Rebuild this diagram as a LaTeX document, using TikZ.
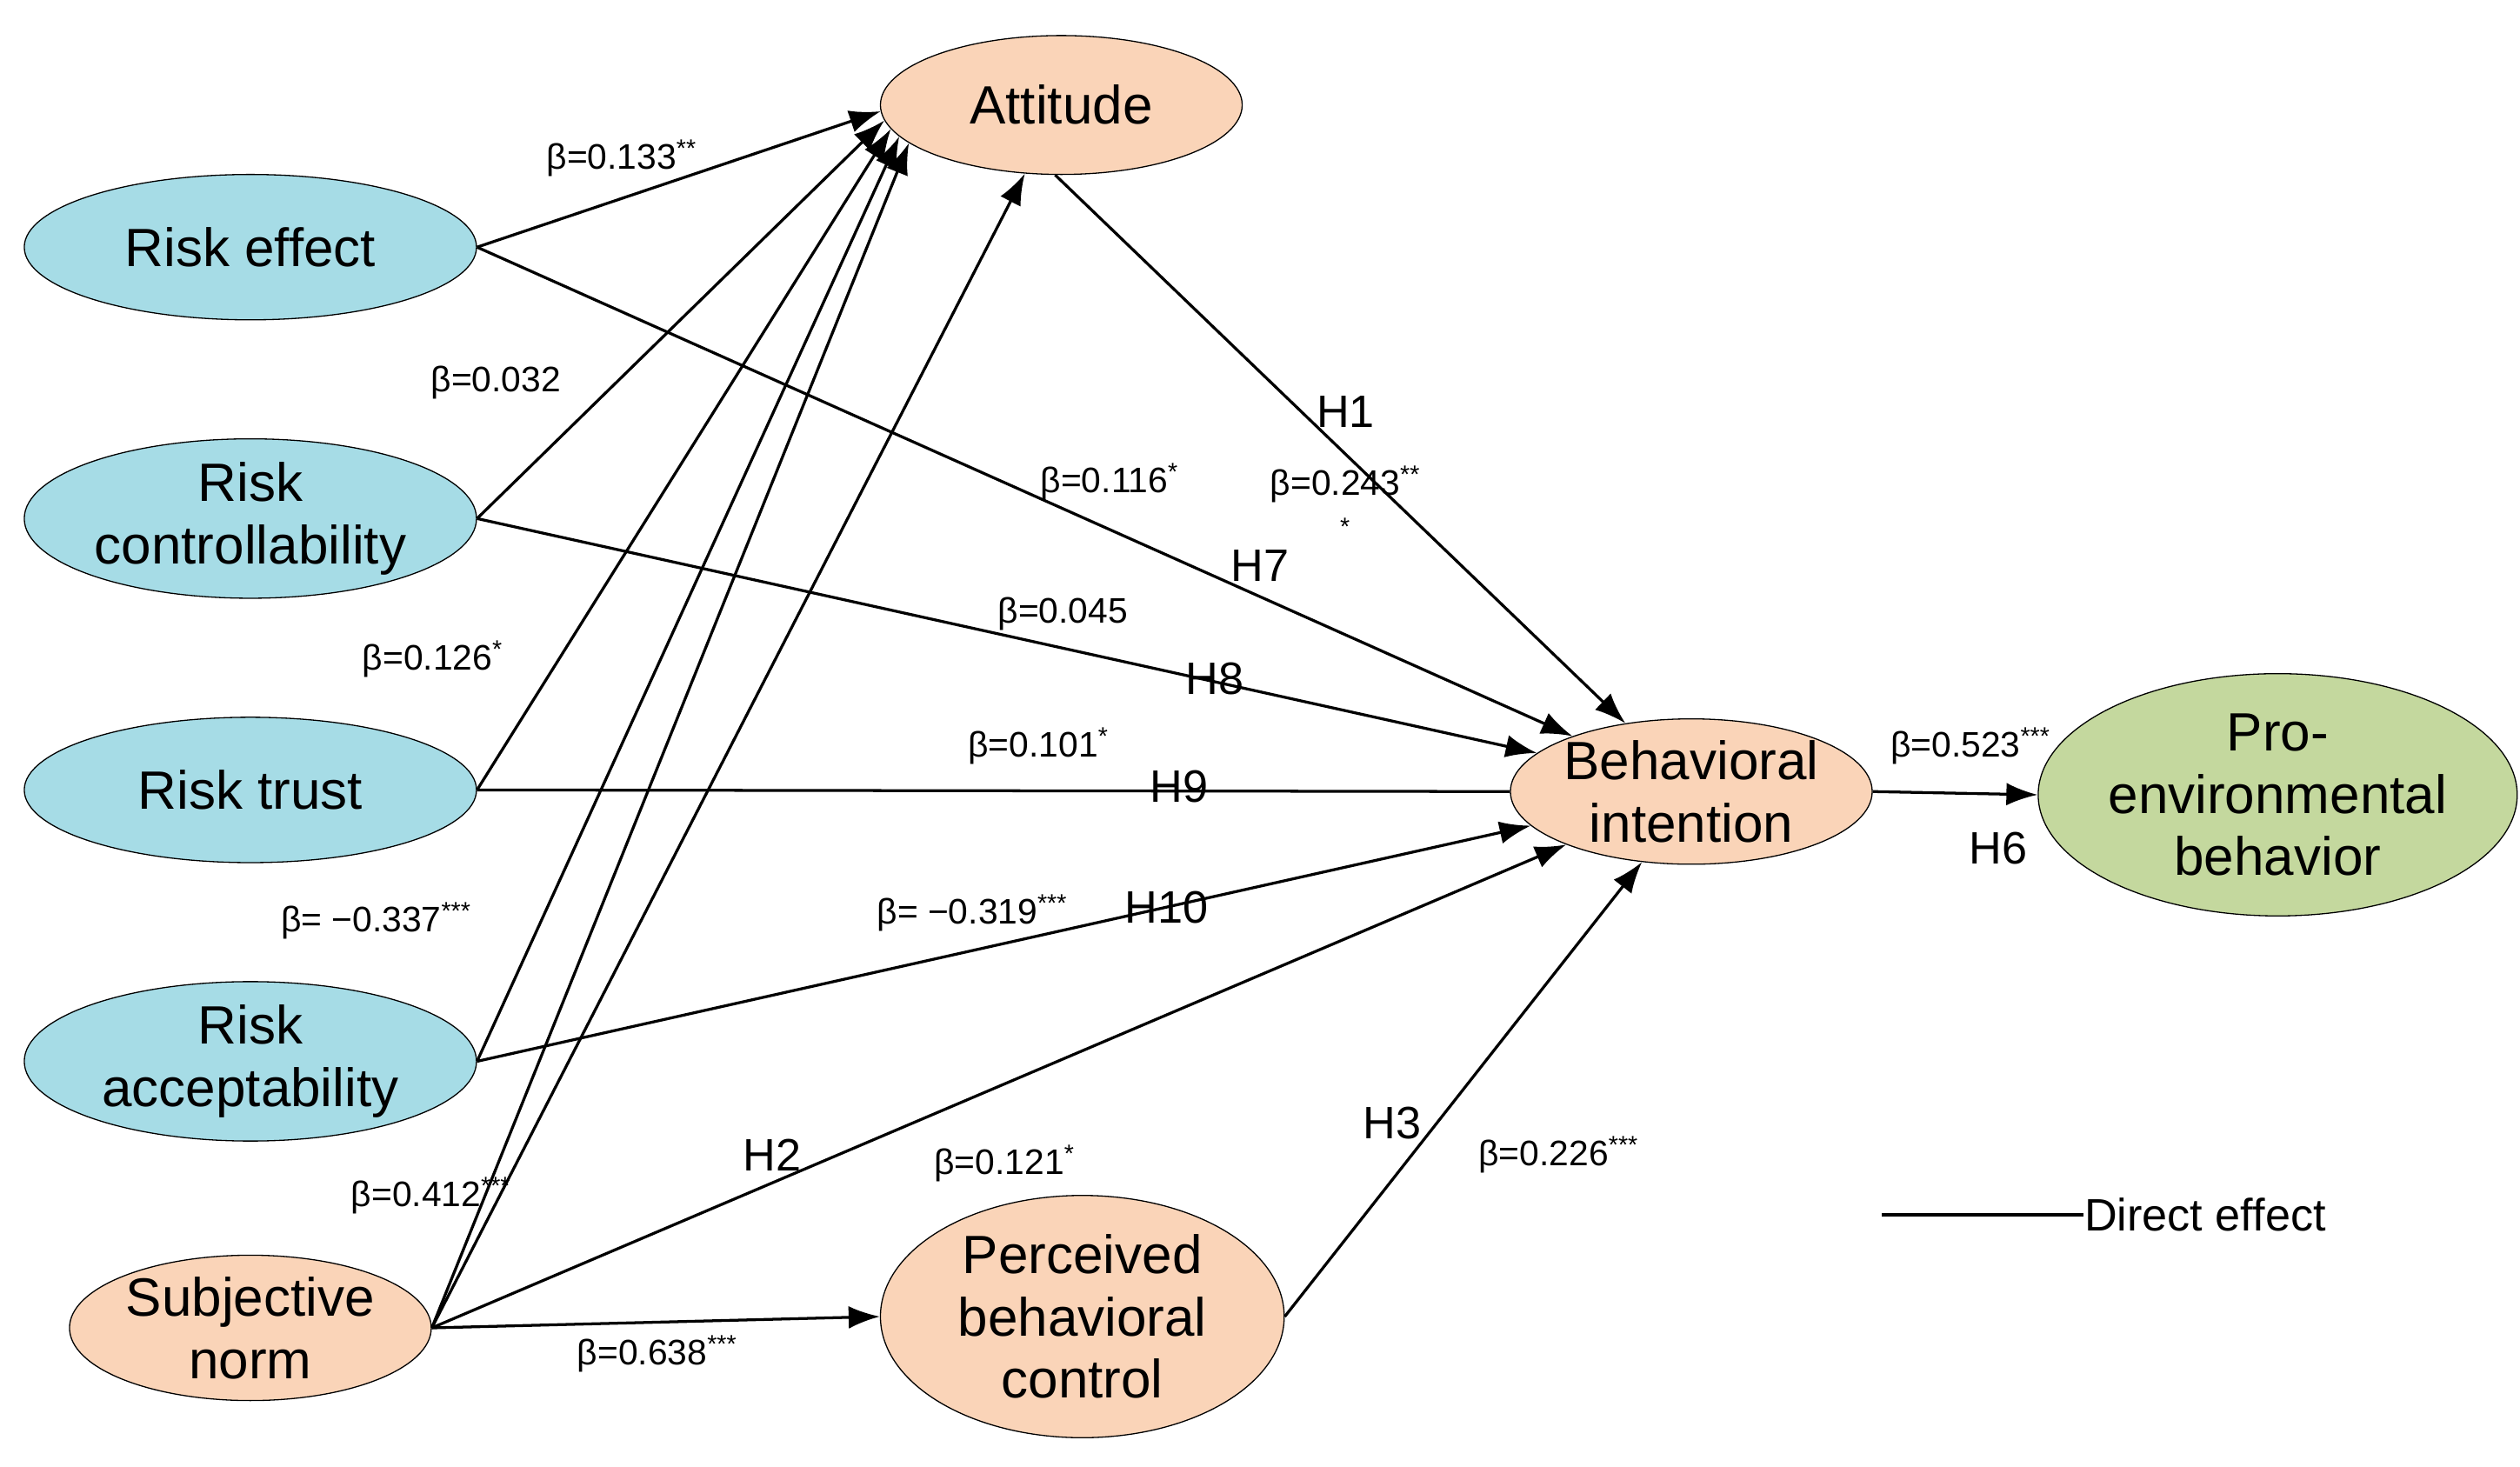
\documentclass[tikz,border=0pt]{standalone}
\usepackage{fontspec}
\setmainfont{Liberation Sans}
\usetikzlibrary{shapes.geometric,arrows.meta}
\definecolor{cblue}{RGB}{166,220,230}
\definecolor{corange}{RGB}{250,212,184}
\definecolor{cgreen}{RGB}{196,216,158}
\begin{document}
\begin{tikzpicture}[x=0.02cm,y=-0.02cm,
  el/.style={ellipse,draw,inner sep=0pt,align=center,font=\fontsize{19}{22}\selectfont},
  bl/.style={el,fill=cblue,minimum width=5.6cm,minimum height=1.8cm},
  ar/.style={-{Latex[length=11pt,width=8pt]},line width=1pt},
  lb/.style={font=\fontsize{12.5}{14}\selectfont},
  hl/.style={font=\fontsize{16}{18}\selectfont}]
\useasboundingbox (0,0) rectangle (1560,908);
\node[el,fill=corange,minimum width=4.48cm,minimum height=1.72cm] (att) at (657,65) {Attitude};
\node[bl] (re) at (155,153) {Risk effect};
\node[bl] (rc) at (155,321) {Risk\\controllability};
\node[bl] (rt) at (155,489) {Risk trust};
\node[bl] (ra) at (155,657) {Risk\\acceptability};
\node[el,fill=corange,minimum width=4.48cm,minimum height=1.8cm] (sn) at (155,822) {Subjective\\norm};
\node[el,fill=corange,minimum width=4.48cm,minimum height=1.8cm] (bi) at (1047,490) {Behavioral\\intention};
\node[el,fill=cgreen,minimum width=5.6cm,minimum height=3cm] (pe) at (1410,492) {Pro-\\environmental\\behavior};
\node[el,fill=corange,minimum width=5cm,minimum height=3cm] (pbc) at (670,815) {Perceived\\behavioral\\control};
\draw[ar] (re.east) -- (att.182);
\draw[ar] (rc.east) -- (att.185);
\draw[ar] (rt.east) -- (att.188);
\draw[ar] (ra.east) -- (att.191);
\draw[ar] (sn.east) -- (att.194);
\draw[ar] (sn.east) -- (att.242);
\draw[ar] (sn.east) -- (pbc.west);
\draw[ar] (sn.east) -- (bi.203);
\draw[ar] (re.east) -- (bi.155);
\draw[ar] (rc.east) -- (bi.166);
\draw[line width=1pt] (rt.east) -- (bi.west);
\draw[ar] (ra.east) -- (bi.192);
\draw[ar] (att.265) -- (bi.134);
\draw[ar] (pbc.east) -- (bi.235);
\draw[ar] (bi.east) -- (pe.west);
\coordinate (l1) at (1165,752); \coordinate (l2) at (1290,752);
\draw[line width=1pt] (l1) -- (l2);
\node[hl,anchor=west,inner sep=0pt] (leg) at (l2) {Direct effect};
\node[lb] at (385,98) {β=0.133\textsuperscript{**}};
\node[lb] at (307,237) {β=0.032};
\node[lb] at (687,298) {β=0.116\textsuperscript{*}};
\node[lb] at (833,300) {β=0.243\textsuperscript{**}};
\node[lb] at (833,330) {\textsuperscript{*}};
\node[hl] at (833,255) {H1};
\node[hl] at (780,350) {H7};
\node[lb] at (658,380) {β=0.045};
\node[hl] at (752,420) {H8};
\node[lb] at (268,408) {β=0.126\textsuperscript{*}};
\node[lb] at (643,462) {β=0.101\textsuperscript{*}};
\node[hl] at (730,487) {H9};
\node[lb] at (233,570) {β= −0.337\textsuperscript{***}};
\node[lb] at (602,565) {β= −0.319\textsuperscript{***}};
\node[hl] at (722,562) {H10};
\node[hl] at (478,715) {H2};
\node[lb] at (622,720) {β=0.121\textsuperscript{*}};
\node[hl] at (862,695) {H3};
\node[lb] at (965,715) {β=0.226\textsuperscript{***}};
\node[lb] at (267,740) {β=0.412\textsuperscript{***}};
\node[lb] at (407,838) {β=0.638\textsuperscript{***}};
\node[lb] at (1220,462) {β=0.523\textsuperscript{***}};
\node[hl] at (1237,525) {H6};
\end{tikzpicture}
\end{document}
